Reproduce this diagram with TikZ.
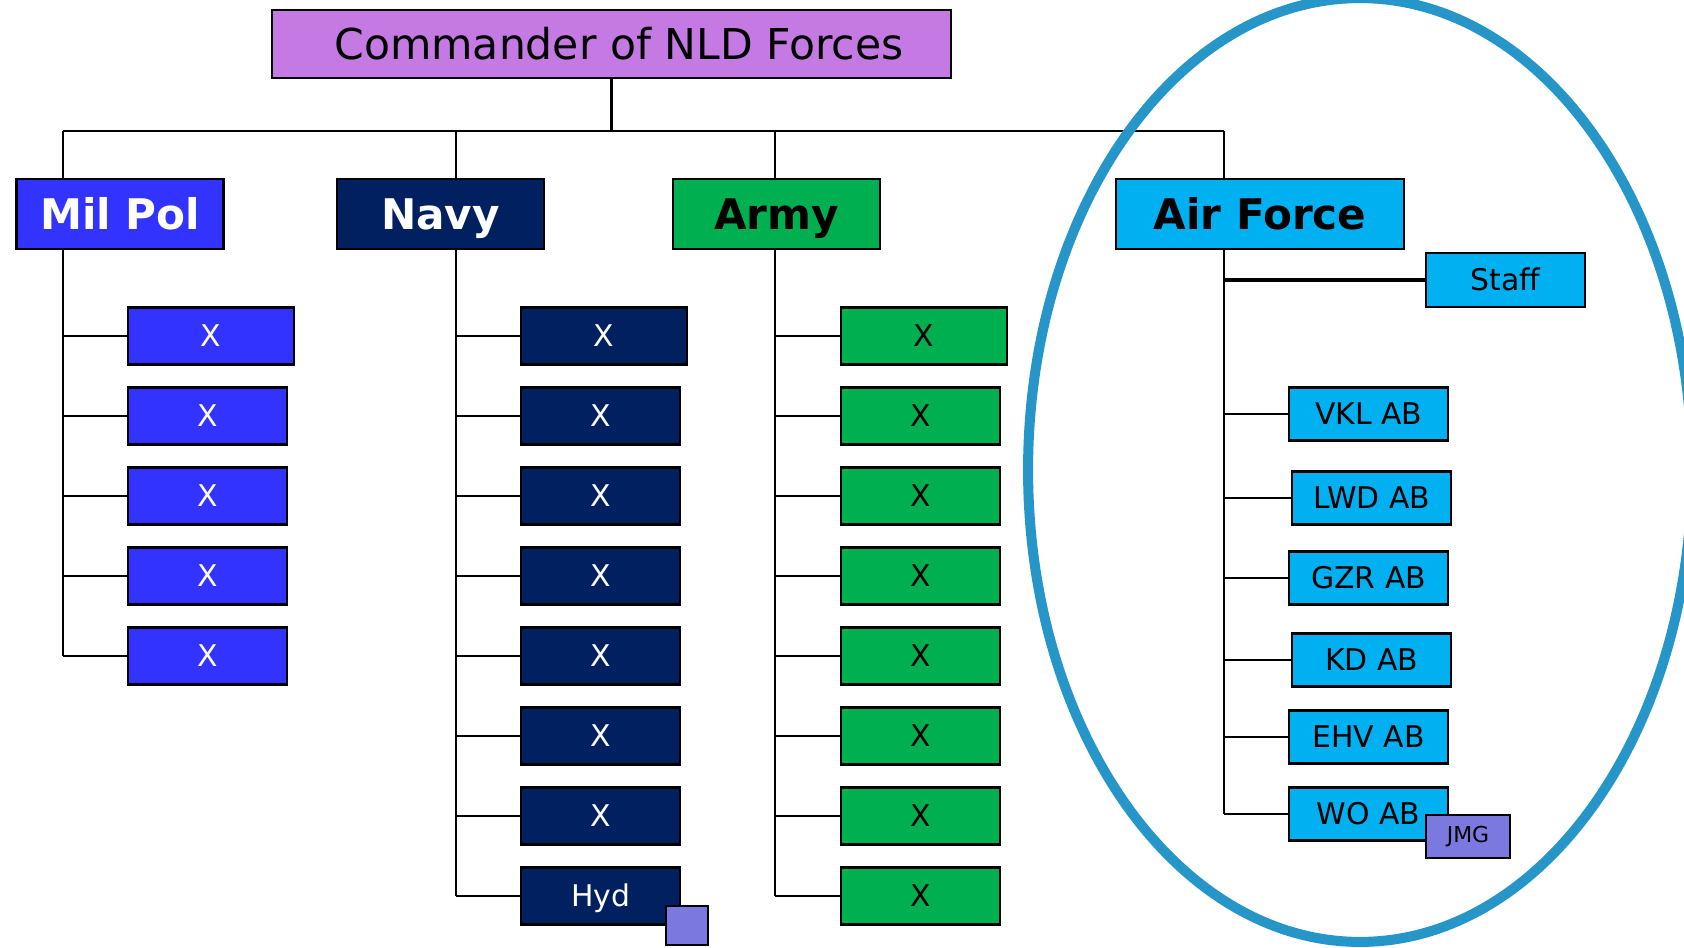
\documentclass[tikz,border=0pt]{standalone}
\usepackage{fontspec}
\setmainfont{DejaVu Sans}
\usetikzlibrary{calc}

\definecolor{cmdpurple}{RGB}{196,121,227}
\definecolor{mpblue}{RGB}{51,51,255}
\definecolor{navyblue}{RGB}{0,32,96}
\definecolor{armygreen}{RGB}{0,176,80}
\definecolor{afblue}{RGB}{0,176,240}
\definecolor{jmgpurple}{RGB}{123,120,224}
\definecolor{ringblue}{RGB}{37,150,199}

\begin{document}
\begin{tikzpicture}[
        x=0.02cm, y=-0.02cm,
        BoxCfg/.style={
            draw,
            line width=1.3pt,
            inner sep=0pt,
            minimum width=3.18cm,
            minimum height=1.14cm,
            text height=16.2pt,
            text depth=3.7pt,
            font=\fontsize{17}{20}\selectfont
        },
        HeadCfg/.style={
            BoxCfg,
            minimum width=4.14cm,
            minimum height=1.40cm,
            text height=22.8pt,
            text depth=5.3pt,
            font=\fontsize{24}{28}\selectfont\bfseries
        },
        AFSubCfg/.style={BoxCfg, fill=afblue, minimum height=1.06cm, anchor=west},
        LinkCfg/.style={line width=1.4pt}
    ]
    \useasboundingbox (0,0) rectangle (1684,947);
    
    % Commander
    \node[BoxCfg, fill=cmdpurple, minimum width=13.58cm, minimum height=1.36cm,
          text height=23pt, text depth=5.3pt,
          font=\fontsize{24.2}{28}\selectfont] (CMD) at (611.5,44) {\hspace{0.3cm}Commander of NLD Forces};
    \coordinate (MPtop) at (63,131);
    \coordinate (NVtop) at (456,131);
    \coordinate (ARtop) at (775,131);
    \coordinate (AFtop) at (1224,131);
    \draw[LinkCfg] (CMD.south)--(CMD.south |- MPtop);
    \draw[LinkCfg] (MPtop)--(AFtop);
    
    % Heads
    \node[HeadCfg, fill=mpblue, text=white] (MP) at (120,214) {Mil Pol};
    \node[HeadCfg, fill=navyblue, text=white] (NV) at (440.5,214) {Navy};
    \node[HeadCfg, fill=armygreen] (AR) at (776.5,214) {Army};
    \node[HeadCfg, fill=afblue, minimum width=5.76cm] (AF) at (1260,214) {Air Force};
    \draw[LinkCfg] (MPtop)--(MPtop |- MP.north);
    \draw[LinkCfg] (NVtop)--(NVtop |- NV.north);
    \draw[LinkCfg] (ARtop)--(ARtop |- AR.north);
    \draw[LinkCfg] (AFtop)--(AFtop |- AF.north);
    
    % Mil Pol
    \node[BoxCfg, fill=mpblue, text=white, anchor=west, minimum width=3.32cm] (MP1) at (127,336) {X};
    \foreach \i in {2,...,5}
        \node[BoxCfg, fill=mpblue, text=white, anchor=west] (MP\i) at (127,{256+80*\i}) {X};
    \draw[LinkCfg] (MPtop |- MP.south)--(MPtop |- MP5.west);
    \foreach \i in {1,...,5}
        \draw[LinkCfg] (MPtop |- MP\i.west)--(MP\i.west);
    
    % Navy
    \node[BoxCfg, fill=navyblue, text=white, anchor=west, minimum width=3.32cm] (NV1) at (520,336) {X};
    \foreach \i in {2,...,7}
        \node[BoxCfg, fill=navyblue, text=white, anchor=west] (NV\i) at (520,{256+80*\i}) {X};
    \node[BoxCfg, fill=navyblue, text=white, anchor=west] (NV8) at (520,896) {Hyd};
    \node[draw, line width=1.3pt, fill=jmgpurple, inner sep=0pt, minimum width=0.84cm, minimum height=0.78cm] (HYDSQ) at (687,925.5) {};
    \draw[LinkCfg] (NVtop |- NV.south)--(NVtop |- NV8.west);
    \foreach \i in {1,...,8}
        \draw[LinkCfg] (NVtop |- NV\i.west)--(NV\i.west);
    
    % Army
    \node[BoxCfg, fill=armygreen, anchor=west, minimum width=3.32cm] (AR1) at (840,336) {X};
    \foreach \i in {2,...,8}
        \node[BoxCfg, fill=armygreen, anchor=west] (AR\i) at (840,{256+80*\i}) {X};
    \draw[LinkCfg] (ARtop |- AR.south)--(ARtop |- AR8.west);
    \foreach \i in {1,...,8}
        \draw[LinkCfg] (ARtop |- AR\i.west)--(AR\i.west);
    
    % Air Force
    \node[BoxCfg, fill=afblue, minimum height=1.08cm] (STF) at (1505.5,280) {Staff};
    \node[AFSubCfg] (VKL) at (1288,414) {VKL AB};
    \node[AFSubCfg] (LWD) at (1291,498) {LWD AB};
    \node[AFSubCfg] (GZR) at (1288,578) {GZR AB};
    \node[AFSubCfg] (KD) at (1291,660) {KD AB};
    \node[AFSubCfg] (EHV) at (1288,737) {EHV AB};
    \node[AFSubCfg] (WO) at (1288,814) {WO AB};
    \node[draw, line width=1.3pt, fill=jmgpurple, inner sep=0pt, minimum width=1.68cm, minimum height=0.86cm,
          font=\fontsize{12.5}{14}\selectfont] (JMG) at (1468,836.5) {JMG};
    \draw[line width=2pt] (AFtop |- STF.west)--(STF.west);
    \draw[LinkCfg] (AFtop |- AF.south)--(AFtop |- WO.west);
    \foreach \n in {VKL,LWD,GZR,KD,EHV,WO}
        \draw[LinkCfg] (AFtop |- \n.west)--(\n.west);
    
    % ring round the Air Force
    \draw[ringblue, line width=5.7pt] (1360,470) ellipse [x radius=6.64cm, y radius=9.44cm];
    
\end{tikzpicture}
\end{document}
